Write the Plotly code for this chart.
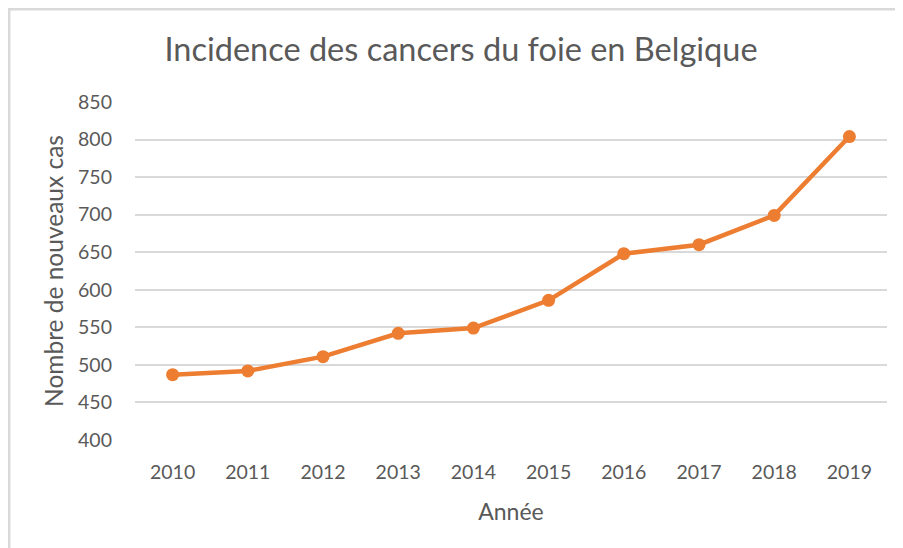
import plotly.graph_objects as go

years = ["2010", "2011", "2012", "2013", "2014", "2015", "2016", "2017", "2018", "2019"]
new_cases = [487, 492, 511, 542, 549, 586, 648, 660, 699, 804]
y_ticks = [400, 450, 500, 550, 600, 650, 700, 750, 800, 850]

title_text = "Incidence des cancers du foie en Belgique"
x_title = "Année"
y_title = "Nombre de nouveaux cas"

orange = "#ED7D31"
grey_text = "#595959"
font_family = "Lato, Open Sans, sans-serif"

W, H = 903, 548
ML, MR, MT, MB = 127, 24, 94, 116
PW, PH = W - ML - MR, H - MT - MB

fig = go.Figure()
fig.add_trace(go.Scatter(
    x=years, y=new_cases, mode="lines+markers",
    line=dict(color=orange, width=4.5),
    marker=dict(color=orange, size=13),
    showlegend=False, hoverinfo="x+y",
))

fig.update_layout(
    width=W, height=H,
    paper_bgcolor="white", plot_bgcolor="white",
    margin=dict(l=ML, r=MR, t=MT, b=MB),
    title=dict(text=title_text, x=453 / W, xanchor="center", y=1 - 42 / H, yanchor="middle",
               font=dict(family=font_family, size=32.5, color=grey_text)),
    font=dict(family=font_family, color=grey_text),
    xaxis=dict(
        type="category", range=[-0.5, len(years) - 0.5],
        showgrid=False, showline=False, zeroline=False,
        tickfont=dict(size=19.5, color=grey_text), ticks="", ticklen=0, ticklabelstandoff=18,
        title=dict(text=x_title, font=dict(size=23, color=grey_text), standoff=22),
    ),
    yaxis=dict(
        range=[400, 850], tickvals=y_ticks, ticktext=[str(v) for v in y_ticks],
        showgrid=True, gridcolor="#d9d9d9", gridwidth=2, zeroline=False, showline=False,
        tickfont=dict(size=19.5, color=grey_text), ticks="", ticklabelstandoff=22,
        title=dict(text=y_title, font=dict(size=24.5, color=grey_text), standoff=7),
    ),
    shapes=[
        dict(type="line", xref="paper", yref="paper",
             x0=(1 - ML) / PW, x1=1 + MR / PW, y0=1 + (MT - 1.2) / PH, y1=1 + (MT - 1.2) / PH,
             line=dict(color="#d9d9d9", width=2.5)),
        dict(type="line", xref="paper", yref="paper",
             x0=(1.2 - ML) / PW, x1=(1.2 - ML) / PW, y0=-MB / PH, y1=1 + MT / PH,
             line=dict(color="#d9d9d9", width=2.5)),
    ],
)

fig.write_html("out.html")
